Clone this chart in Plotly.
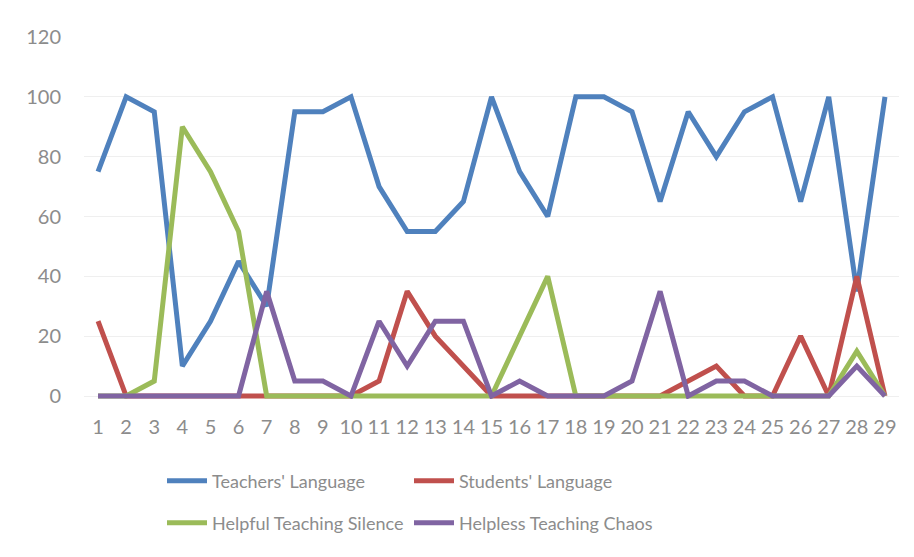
import plotly.graph_objects as go

categories = list(range(1, 30))
teachers = [75, 100, 95, 10, 25, 45, 30, 95, 95, 100, 70, 55, 55, 65, 100, 75, 60, 100, 100, 95, 65, 95, 80, 95, 100, 65, 100, 35, 100]
students = [25, 0, 0, 0, 0, 0, 0, 0, 0, 0, 5, 35, 20, 10, 0, 0, 0, 0, 0, 0, 0, 5, 10, 0, 0, 20, 0, 40, 0]
silence = [0, 0, 5, 90, 75, 55, 0, 0, 0, 0, 0, 0, 0, 0, 0, 20, 40, 0, 0, 0, 0, 0, 0, 0, 0, 0, 0, 15, 0]
chaos = [0, 0, 0, 0, 0, 0, 35, 5, 5, 0, 25, 10, 25, 25, 0, 5, 0, 0, 0, 5, 35, 0, 5, 5, 0, 0, 0, 10, 0]

series = [
    ("Teachers' Language", teachers, "#4F81BD", "legend"),
    ("Students' Language", students, "#C0504D", "legend"),
    ("Helpful Teaching Silence", silence, "#9BBB59", "legend2"),
    ("Helpless Teaching Chaos", chaos, "#8064A2", "legend2"),
]

FONT = "Lato, Liberation Sans, sans-serif"
GRAY = "#8c8c8c"
W, H = 906, 549  # page body has an 8px margin

fig = go.Figure()
for name, vals, color, lg in series:
    fig.add_trace(go.Scatter(x=categories, y=vals, name=name, mode="lines",
                             line=dict(color=color, width=5, shape="linear"),
                             legend=lg))

legend_common = dict(orientation="h", xref="container", yref="container",
                     xanchor="left", yanchor="middle",
                     entrywidth=192, entrywidthmode="pixels",
                     font=dict(family=FONT, size=18, color=GRAY),
                     bgcolor="rgba(0,0,0,0)", itemwidth=40)

fig.update_layout(
    width=W, height=H,
    margin=dict(l=76, r=15, t=29, b=158),
    paper_bgcolor="white", plot_bgcolor="white",
    font=dict(family=FONT, size=18, color=GRAY),
    xaxis=dict(type="linear", range=[0.5, 29.5], tickmode="array",
               tickvals=categories, ticktext=[str(c) for c in categories],
               showgrid=False, zeroline=False, showline=False,
               ticks="", ticklabelstandoff=14,
               tickfont=dict(family=FONT, size=20, color=GRAY)),
    yaxis=dict(range=[-1, 120], tick0=0, dtick=20, showgrid=True,
               gridcolor="#efefef", gridwidth=1, zeroline=False,
               showline=False, ticks="", ticklabelstandoff=22,
               tickfont=dict(family=FONT, size=20, color=GRAY)),
    legend=dict(legend_common, x=154 / W, y=1 - 473 / H),
    legend2=dict(legend_common, x=154 / W, y=1 - 515 / H),
    showlegend=True,
)

fig.write_html("out.html")
